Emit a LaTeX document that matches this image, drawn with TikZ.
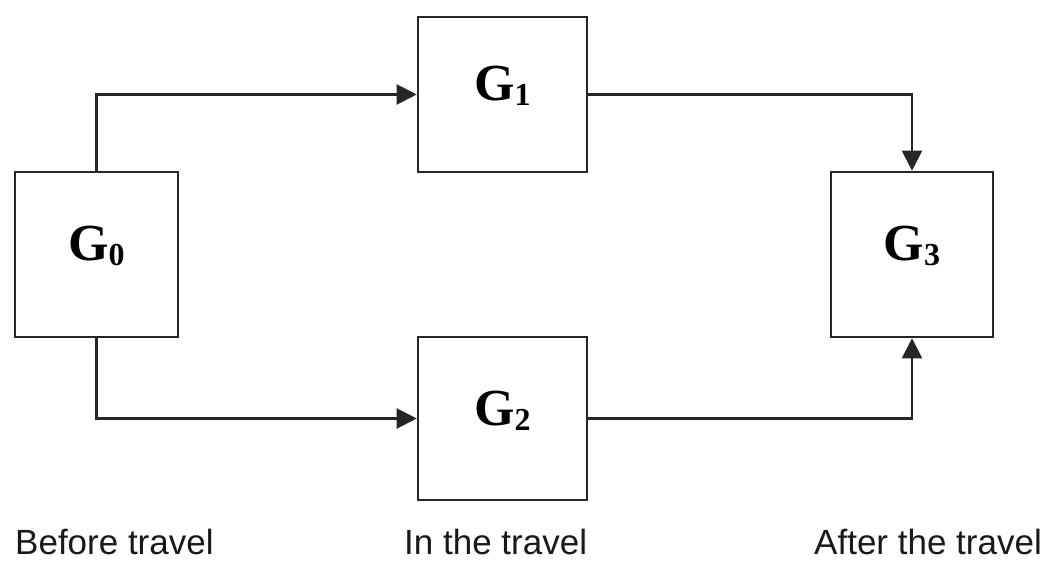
\documentclass[tikz,border=0pt]{standalone}
\usepackage{fontspec}
\setmainfont{Liberation Serif}
\newfontfamily\labelfont{Liberation Sans}
\usetikzlibrary{arrows.meta}
\newcommand{\gname}[1]{\raisebox{0pt}[34pt][21pt]{{\fontsize{52}{52}\selectfont\bfseries G}\raisebox{-5pt}{\fontsize{32}{32}\selectfont\bfseries #1}}}
\tikzset{
  gbox/.style={draw=black!85, line width=2.6pt, minimum width=#1, inner sep=0pt},
  conn/.style={draw=black!85, line width=2.2pt, -{Triangle[length=20pt,width=20pt]}},
  caption/.style={anchor=base west, inner sep=0pt, text depth=0pt, font=\labelfont\fontsize{35}{35}\selectfont, text=black!90}
}
\begin{document}
\begin{tikzpicture}[x=1pt,y=1pt]
\useasboundingbox (0,0) rectangle (1058,-561);
\node[gbox=163pt, minimum height=165pt] (g0) at (96.5,-254.5) {\gname{0}};
\node[gbox=169pt, minimum height=155pt] (g1) at (502.5,-94.5) {\gname{1}};
\node[gbox=169pt, minimum height=163pt] (g2) at (502.5,-418.5) {\gname{2}};
\node[gbox=162pt, minimum height=165pt] (g3) at (912,-254.5) {\gname{3}};
\draw[conn] (g0.north) |- (g1.west);
\draw[conn] (g0.south) |- (g2.west);
\draw[conn] (g1.east) -| (g3.north);
\draw[conn] (g2.east) -| (g3.south);
\node[caption] (c0) at (15,-554) {Before travel};
\node[caption] (c1) at (404,-554) {In the travel};
\node[caption] (c2) at (814,-554) {After the travel};
\end{tikzpicture}
\end{document}
